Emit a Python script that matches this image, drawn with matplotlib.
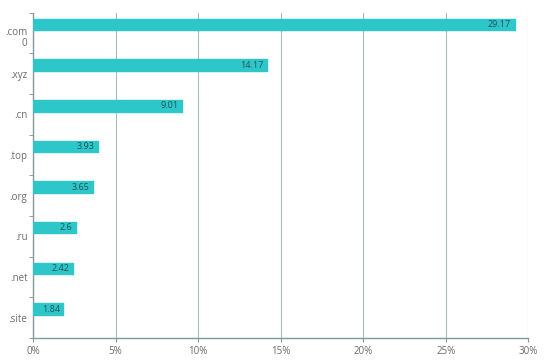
import matplotlib
matplotlib.use("Agg")
import matplotlib.pyplot as plt
import matplotlib.transforms as mtransforms
import numpy as np

categories = [".com\n0", ".xyz", ".cn", ".top", ".org", ".ru", ".net", ".site"]
values = [29.17, 14.17, 9.01, 3.93, 3.65, 2.6, 2.42, 1.84]
value_labels = ["29.17", "14.17", "9.01", "3.93", "3.65", "2.6", "2.42", "1.84"]
xticks = [0, 5, 10, 15, 20, 25, 30]
xtick_labels = ["0%", "5%", "10%", "15%", "20%", "25%", "30%"]

plt.rcParams['font.family'] = ['Open Sans', 'DejaVu Sans']

fig = plt.figure(figsize=(5.58, 3.63), dpi=100)
ax = fig.add_axes([0.0591, 0.0689, 0.9468 - 0.0591, 0.965 - 0.0689])

bar_color = "#2ec7c9"
grid_color = "#a9bcbc"
axis_color = "#7f9a9a"
text_color = "#6a6a6a"

n = len(categories)
ypos = np.arange(n)
offset = -0.21
height = 0.28

bars = ax.barh(ypos + offset, values, height=height, color=bar_color,
               edgecolor=bar_color, linewidth=1.0, joinstyle='round', zorder=3)

for y, v, lab in zip(ypos, values, value_labels):
    ax.annotate(lab, xy=(v, y + offset), xytext=(-2.5, 0), textcoords='offset points',
                ha='right', va='center', fontsize=6.5, color="#1f5257", zorder=4)

ax.set_ylim(n - 0.5, -0.5)
ax.set_xlim(0, 30)

ax.set_xticks(xticks)
ax.set_xticklabels(xtick_labels)
ax.set_yticks(ypos)
ax.set_yticklabels(categories)
ax.set_yticks(np.arange(n + 1) - 0.5, minor=True)

ax.tick_params(axis='x', length=3, color=axis_color, labelsize=7, labelcolor=text_color, pad=3)
ax.tick_params(axis='y', which='major', length=0, labelsize=7, labelcolor=text_color, pad=4)
ax.tick_params(axis='y', which='minor', length=3, color="#888888")

# first label: first line at band centre
lab0 = ax.get_yticklabels()[0]
lab0.set_verticalalignment('top')
lab0.set_linespacing(1.0)
lab0.set_transform(lab0.get_transform() + mtransforms.ScaledTranslation(0, 4 / 72, fig.dpi_scale_trans))

ax.grid(axis='x', color=grid_color, linewidth=0.8, zorder=0)
ax.grid(axis='y', visible=False)

for s in ['top', 'right']:
    ax.spines[s].set_visible(False)
ax.spines['left'].set_color("#8a9a9a")
ax.spines['left'].set_linewidth(1.0)
ax.spines['bottom'].set_color(axis_color)
ax.spines['bottom'].set_linewidth(1.0)

fig.savefig("out.png", dpi=100)
